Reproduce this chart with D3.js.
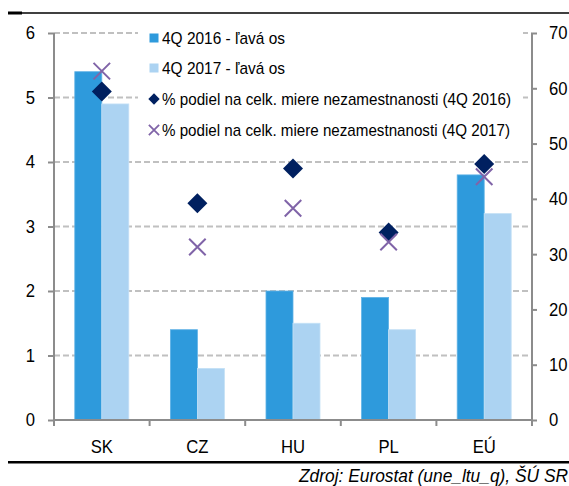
<!DOCTYPE html>
<html>
<head>
<meta charset="utf-8">
<script src="https://cdn.jsdelivr.net/npm/d3@7"></script>
<style>
  body { margin: 0; background: #fff; }
  svg { display: block; font-family: "Liberation Sans", Arial, sans-serif; }
</style>
</head>
<body>
<svg id="chart" width="569" height="486"></svg>
<script>
// kategórie a hodnoty
let krajiny = ["SK", "CZ", "HU", "PL", "EÚ"]
let miera2016 = [5.4, 1.4, 2.0, 1.9, 3.8]
let miera2017 = [4.9, 0.8, 1.5, 1.4, 3.2]
let podiel2016 = [59.4, 39.2, 45.5, 33.9, 46.3]
let podiel2017 = [63.1, 31.3, 38.3, 32.2, 44.0]
let ticksLave = [0, 1, 2, 3, 4, 5, 6]
let ticksPrave = [0, 10, 20, 30, 40, 50, 60, 70]
let legenda = [
    "4Q 2016 - ľavá os",
    "4Q 2017 - ľavá os",
    "% podiel na celk. miere nezamestnanosti (4Q 2016)",
    "% podiel na celk. miere nezamestnanosti (4Q 2017)"
]

let svg = d3.select("#chart")
let osa = "#8c8c8c"

let x = d3.scaleBand().domain(krajiny).range([54, 532])
let xIn = d3.scaleBand().domain([0, 1]).range([0, x.bandwidth()]).paddingInner(0).paddingOuter(0.77)
let yL = d3.scaleLinear().domain([0, 6]).range([420, 33])
let yR = d3.scaleLinear().domain([0, 70]).range([420, 33])

// čiary hore a dole
svg.append("line").attr("x1", 8).attr("x2", 569).attr("y1", 13).attr("y2", 13)
    .attr("stroke", "#000").attr("stroke-width", 1.5)
svg.append("line").attr("x1", 8).attr("x2", 22).attr("y1", 13).attr("y2", 13)
    .attr("stroke", "#000").attr("stroke-width", 3)
svg.append("line").attr("x1", 8).attr("x2", 569).attr("y1", 462.3).attr("y2", 462.3)
    .attr("stroke", "#000").attr("stroke-width", 2.5)

// mriežka
svg.append("g").selectAll("line")
    .data(ticksLave.slice(1))
    .join("line")
    .attr("x1", 54).attr("x2", 532)
    .attr("y1", d => yL(d)).attr("y2", d => yL(d))
    .attr("stroke", "#c0c0c0").attr("stroke-width", 2)
    .attr("stroke-dasharray", "6,3")

// stĺpce
let farby = ["#2e9adc", "#acd3f2"]
let g = svg.append("g")
krajiny.forEach((k, i) => {
    [miera2016[i], miera2017[i]].forEach((v, j) => {
        g.append("rect")
            .attr("x", x(k) + xIn(j))
            .attr("y", yL(v))
            .attr("width", xIn.bandwidth())
            .attr("height", yL(0) - yL(v))
            .attr("fill", farby[j])
            .attr("stroke", j == 0 ? "#5fb2e6" : "#c4e0f6")
            .attr("stroke-width", 0.8)
    })
})

// osi
let fontTick = 18.5
let axL = svg.append("g").attr("transform", "translate(54,0)")
    .call(d3.axisLeft(yL).tickValues(ticksLave).tickFormat(d3.format("d")).tickSize(6).tickPadding(13))
let axR = svg.append("g").attr("transform", "translate(532,0)")
    .call(d3.axisRight(yR).tickValues(ticksPrave).tickSize(5).tickPadding(12))
let axX = svg.append("g").attr("transform", "translate(0,420)")
    .call(d3.axisBottom(x).tickSize(0).tickPadding(20))
// ryšky medzi kategóriami
axX.selectAll(".hranica")
    .data(krajiny.map(k => x(k)).concat([x.range()[1]]))
    .join("line")
    .attr("class", "hranica")
    .attr("x1", d => d).attr("x2", d => d)
    .attr("y1", 0).attr("y2", 6)
    .attr("stroke", osa).attr("stroke-width", 2)

;[axL, axR, axX].forEach(a => {
    a.select(".domain").attr("stroke", osa).attr("stroke-width", 2)
    a.selectAll(".tick line").attr("stroke", osa).attr("stroke-width", 2)
    a.selectAll("text").attr("fill", "#000").attr("font-size", fontTick)
        .attr("font-family", "Liberation Sans, Arial, sans-serif")
        .attr("class", "uzke")
})
axX.select(".domain").attr("d", "M54,0H532")
axL.select(".domain").attr("d", "M0,420V33")
axR.select(".domain").attr("d", "M0,420V33")

// legenda
let lg = svg.append("g")
lg.append("rect").attr("x", 138).attr("y", 24).attr("width", 385).attr("height", 122).attr("fill", "#fff")
let ly = [38, 68, 99, 130]
let sirky = [123, 123, 349, 348]
let diamant = d3.symbol().type(d3.symbolSquare)
let krizik = d3.symbol().type(d3.symbolX)

lg.append("rect").attr("x", 149.5).attr("y", ly[0] - 4.5).attr("width", 9).attr("height", 9).attr("fill", farby[0])
lg.append("rect").attr("x", 149.5).attr("y", ly[1] - 4.5).attr("width", 9).attr("height", 9).attr("fill", farby[1])
lg.append("path").attr("d", diamant.size(64)())
    .attr("transform", `translate(154,${ly[2]}) rotate(45)`).attr("fill", "#002060")
lg.append("path").attr("d", krizik.size(70)())
    .attr("transform", `translate(154,${ly[3]})`).attr("fill", "none")
    .attr("stroke", "#8064a8").attr("stroke-width", 1.8)

lg.selectAll("text")
    .data(legenda)
    .join("text")
    .attr("x", 162)
    .attr("y", (d, i) => ly[i])
    .attr("dy", "0.36em")
    .attr("font-size", 17)
    .attr("textLength", (d, i) => sirky[i])
    .attr("lengthAdjust", "spacingAndGlyphs")
    .text(d => d)

// body na pravej osi
let cx = d => x(d) + x.bandwidth() / 2
svg.append("g").selectAll("path")
    .data(krajiny)
    .join("path")
    .attr("d", diamant.size(200)())
    .attr("transform", (d, i) => `translate(${cx(d)},${yR(podiel2016[i])}) rotate(45)`)
    .attr("fill", "#002060")
svg.append("g").selectAll("path")
    .data(krajiny)
    .join("path")
    .attr("d", krizik.size(180)())
    .attr("transform", (d, i) => `translate(${cx(d)},${yR(podiel2017[i])})`)
    .attr("fill", "none")
    .attr("stroke", "#8064a8")
    .attr("stroke-width", 2)

// zdroj
svg.append("text")
    .attr("x", 568).attr("y", 482)
    .attr("text-anchor", "end")
    .attr("font-style", "italic")
    .attr("font-size", 17.5)
    .attr("textLength", 269)
    .attr("lengthAdjust", "spacingAndGlyphs")
    .text("Zdroj: Eurostat (une_ltu_q), ŠÚ SR")

// zúženie písma na osiach (pôvodne Arial Narrow)
svg.selectAll("text.uzke").each(function () {
    let w = this.getComputedTextLength()
    d3.select(this).attr("textLength", w * 0.9).attr("lengthAdjust", "spacingAndGlyphs")
})
</script>
</body>
</html>
